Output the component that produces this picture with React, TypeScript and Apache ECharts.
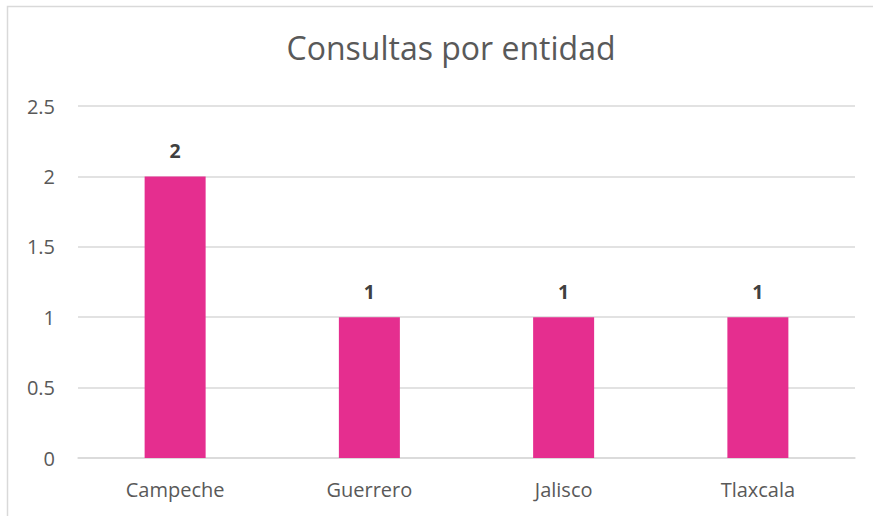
import React, { useEffect, useRef } from "react";
import * as echarts from "echarts";

const categories = ["Campeche", "Guerrero", "Jalisco", "Tlaxcala"];
const values = [2, 1, 1, 1];
const titleText = "Consultas por entidad";

const FONT = "'Open Sans', Lato, sans-serif";

export default function App() {
  const ref = useRef<HTMLDivElement>(null);
  useEffect(() => {
    if (!ref.current) return;
    const chart = echarts.init(ref.current, null, { renderer: "svg" });
    chart.setOption({
      animation: false,
      backgroundColor: "#ffffff",
      title: {
        text: titleText,
        left: 446,
        textAlign: "center",
        top: 26,
        textStyle: {
          fontFamily: FONT,
          fontSize: 32,
          fontWeight: "normal",
          color: "#595959",
        },
      },
      graphic: [
        {
          type: "rect",
          shape: { x: 7.5, y: 6.5, width: 900, height: 600 },
          style: { fill: "none", stroke: "#d9d9d9", lineWidth: 1.5 },
          silent: true,
        },
      ],
      grid: { left: 78, right: 18, top: 106, bottom: 58, containLabel: false },
      xAxis: {
        type: "category",
        data: categories,
        axisLine: { lineStyle: { color: "#d9d9d9", width: 1.5 } },
        axisTick: { show: false },
        axisLabel: {
          color: "#595959",
          fontSize: 20,
          fontFamily: FONT,
          margin: 21,
        },
      },
      yAxis: {
        type: "value",
        min: 0,
        max: 2.5,
        interval: 0.5,
        axisLine: { show: false },
        axisTick: { show: false },
        splitLine: { lineStyle: { color: "#d9d9d9", width: 1.5 } },
        axisLabel: {
          color: "#595959",
          fontSize: 20,
          fontFamily: FONT,
          margin: 23,
        },
      },
      series: [
        {
          type: "bar",
          data: values,
          barWidth: 61,
          itemStyle: { color: "#E52E8F" },
          label: {
            show: true,
            position: "top",
            distance: 16,
            color: "#404040",
            fontSize: 19.5,
            fontWeight: "bold",
            fontFamily: FONT,
          },
        },
      ],
    });
    return () => chart.dispose();
  }, []);
  return (
    <div
      ref={ref}
      style={{ position: "fixed", left: 0, top: 0, width: 873, height: 516 }}
    />
  );
}
